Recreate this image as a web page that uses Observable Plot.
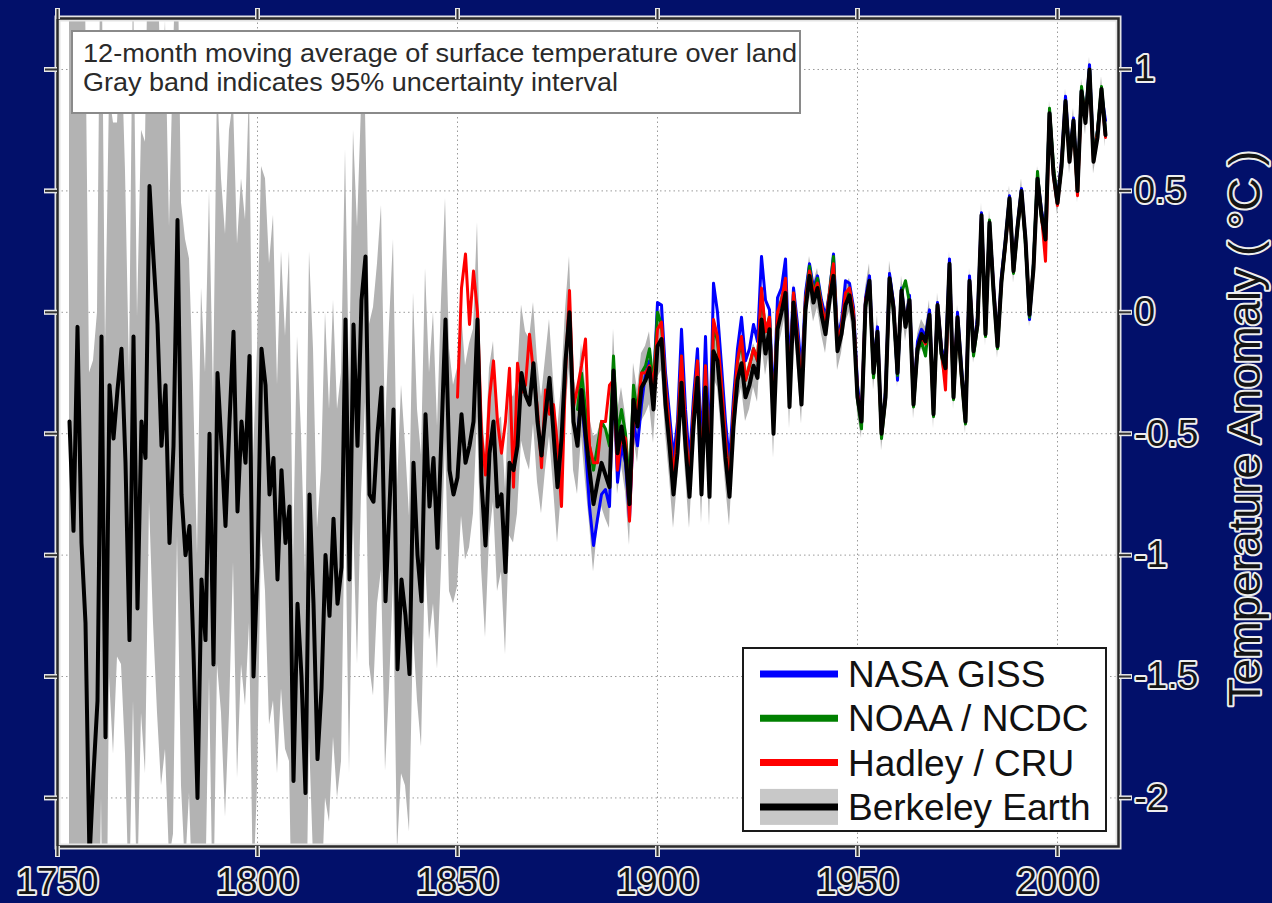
<!DOCTYPE html>
<html>
<head>
<meta charset="utf-8">
<script src="https://cdn.jsdelivr.net/npm/d3@7"></script>
<script src="https://cdn.jsdelivr.net/npm/@observablehq/plot@0.6"></script>
<style>
  html, body { margin: 0; padding: 0; background: #02106a; }
  #chart { width: 1272px; height: 903px; }
</style>
</head>
<body>
<div id="chart"></div>
<script>
// Land surface temperature anomaly (°C), 12-month moving average, one value per year.

// Berkeley Earth, 1753–2012
const berkeleyStart = 1753;
const berkeley = [
  -0.45, -0.90, -0.06, -0.95, -1.28, -2.25, -1.90,
  -1.60, -0.10, -1.75, -0.30, -0.52, -0.32, -0.15, -0.62, -1.35, -0.10,
  -1.22, -0.45, -0.60, 0.52, 0.22, -0.05, -0.55, -0.30, -0.95, -0.55,
  0.38, -0.75, -1.00, -0.88, -1.40, -2.00, -1.10, -1.35, -0.50, -1.45,
  -0.25, -0.55, -0.88, -0.45, -0.08, -0.82, -0.45, -0.62, -0.18, -1.50,
  -1.05, -0.15, -0.30, -0.75, -0.60, -1.10, -0.65, -0.95, -0.80, -1.93,
  -1.20, -1.50, -1.98, -0.75, -1.20, -1.84, -1.55, -1.00, -1.25, -0.85,
  -1.20, -1.05, -0.03, -1.10, -0.05, -0.55, 0.05, 0.23, -0.75, -0.78,
  -0.50, -0.31, -1.19, -0.80, -0.40, -1.47, -1.10, -1.25, -1.49, -0.62,
  -1.00, -1.19, -0.42, -0.80, -0.60, -0.97, -0.50, -0.03, -0.65, -0.75,
  -0.68, -0.42, -0.62, -0.55, -0.45, -0.03, -0.70, -0.96, -0.58, -0.45,
  -0.80, -0.75, -1.07, -0.62, -0.65, -0.55, -0.25, -0.34, -0.38, -0.21,
  -0.45, -0.59, -0.42, -0.27, -0.50, -0.72, -0.52, -0.20, 0.00, -0.45,
  -0.55, -0.32, -0.50, -0.65, -0.79, -0.70, -0.62, -0.67, -0.72, -0.24,
  -0.58, -0.47, -0.58, -0.79, -0.36, -0.47, -0.31, -0.28, -0.23, -0.40,
  -0.14, -0.11, -0.38, -0.55, -0.75, -0.58, -0.29, -0.55, -0.76, -0.47,
  -0.27, -0.75, -0.31, -0.76, -0.16, -0.20, -0.39, -0.60, -0.76, -0.47,
  -0.28, -0.21, -0.35, -0.30, -0.22, -0.27, -0.03, -0.17, -0.07, -0.50,
  -0.07, 0.00, 0.08, -0.39, 0.04, -0.15, -0.38, 0.01, 0.15, 0.04,
  0.10, -0.01, -0.09, 0.05, 0.15, -0.16, -0.09, 0.03, 0.07, -0.04,
  -0.35, -0.45, 0.03, 0.13, -0.25, -0.08, -0.50, -0.35, 0.14, 0.02,
  -0.25, 0.09, -0.06, 0.05, -0.38, -0.15, -0.09, -0.12, -0.01, -0.42,
  0.03, -0.17, -0.23, 0.20, -0.35, -0.02, -0.25, -0.45, 0.13, -0.16,
  -0.05, 0.40, -0.09, 0.37, 0.09, -0.14, 0.13, 0.29, 0.47, 0.17,
  0.35, 0.50, 0.30, -0.01, 0.18, 0.55, 0.40, 0.30, 0.82, 0.57,
  0.45, 0.60, 0.87, 0.62, 0.79, 0.50, 0.91, 0.78, 1.00, 0.62,
  0.72, 0.92, 0.73
];
// Half-width of the Berkeley Earth 95% uncertainty interval, 1753–2012
const berkeleyUncertainty = [
  2.6, 2.6, 2.6, 2.6, 2.6, 2.0, 1.7,
  1.6, 1.9, 1.6, 1.2, 1.3, 1.1, 1.3, 1.2, 1.1, 1.5,
  1.2, 1.2, 1.3, 1.3, 1.5, 1.6, 1.4, 1.5, 1.3, 1.6,
  1.3, 1.2, 1.3, 1.1, 1.1, 1.0, 1.2, 1.1, 1.0, 1.1,
  1.2, 1.1, 1.2, 1.2, 0.95, 1.1, 1.0, 1.0, 1.1, 0.9,
  0.9, 0.75, 0.85, 0.95, 1.0, 0.8, 0.9, 0.85, 1.05, 0.9,
  1.1, 1.0, 0.9, 1.0, 1.05, 0.95, 0.9, 1.0, 0.85, 0.9,
  0.8, 0.8, 0.7, 0.8, 0.8, 0.9, 0.8, 0.6, 0.7, 0.8,
  0.7, 0.75, 0.7, 0.75, 0.7, 0.75, 0.8, 0.7, 0.65, 0.7,
  0.6, 0.6, 0.6, 0.55, 0.6, 0.5, 0.55, 0.5, 0.5, 0.45,
  0.45, 0.42, 0.4, 0.42, 0.38, 0.4, 0.35, 0.38, 0.35, 0.33,
  0.35, 0.32, 0.34, 0.3, 0.3, 0.28, 0.28, 0.26, 0.27, 0.25,
  0.25, 0.24, 0.23, 0.24, 0.22, 0.23, 0.22, 0.21, 0.23, 0.2,
  0.2, 0.19, 0.2, 0.22, 0.28, 0.2, 0.18, 0.18, 0.17, 0.17,
  0.17, 0.16, 0.16, 0.17, 0.15, 0.15, 0.14, 0.14, 0.15, 0.14,
  0.13, 0.13, 0.12, 0.13, 0.14, 0.12, 0.12, 0.12, 0.13, 0.12,
  0.11, 0.12, 0.11, 0.12, 0.11, 0.11, 0.11, 0.11, 0.12, 0.11,
  0.10, 0.10, 0.10, 0.10, 0.09, 0.10, 0.09, 0.09, 0.09, 0.10,
  0.09, 0.09, 0.09, 0.09, 0.08, 0.09, 0.08, 0.08, 0.08, 0.08,
  0.08, 0.08, 0.08, 0.08, 0.08, 0.08, 0.08, 0.07, 0.07, 0.07,
  0.07, 0.07, 0.07, 0.07, 0.07, 0.07, 0.07, 0.07, 0.07, 0.07,
  0.06, 0.06, 0.06, 0.06, 0.06, 0.06, 0.06, 0.06, 0.06, 0.06,
  0.05, 0.05, 0.05, 0.05, 0.05, 0.05, 0.05, 0.05, 0.05, 0.05,
  0.05, 0.05, 0.05, 0.05, 0.05, 0.05, 0.05, 0.05, 0.05, 0.05,
  0.05, 0.05, 0.05, 0.05, 0.05, 0.05, 0.05, 0.05, 0.05, 0.05,
  0.05, 0.05, 0.05, 0.05, 0.05, 0.05, 0.05, 0.05, 0.05, 0.05,
  0.05, 0.05, 0.05
];

// Hadley / CRU, 1850–2012
const hadleyStart = 1850;
const hadley = [
  -0.35, 0.10, 0.24, -0.05, 0.17, 0.00, -0.50, -0.67, -0.35, -0.20,
  -0.45, -0.58, -0.45, -0.23, -0.72, -0.21, -0.33, -0.30, -0.09, -0.25,
  -0.40, -0.64, -0.32, -0.42, -0.38, -0.55, -0.80, -0.25, 0.09, -0.39,
  -0.31, -0.22, -0.11, -0.55, -0.62, -0.62, -0.45, -0.45, -0.30, -0.28,
  -0.65, -0.50, -0.52, -0.86, -0.45, -0.40, -0.25, -0.25, -0.22, -0.30,
  -0.07, -0.04, -0.30, -0.48, -0.68, -0.50, -0.18, -0.47, -0.70, -0.40,
  -0.20, -0.68, -0.22, -0.70, -0.03, -0.10, -0.30, -0.52, -0.72, -0.40,
  -0.20, -0.10, -0.28, -0.22, -0.15, -0.20, 0.10, -0.08, -0.02, -0.45,
  0.00, 0.05, 0.14, -0.33, 0.08, -0.10, -0.32, 0.05, 0.17, 0.08,
  0.12, 0.03, -0.05, 0.08, 0.20, -0.12, -0.06, 0.08, 0.10, 0.00,
  -0.33, -0.44, 0.05, 0.12, -0.24, -0.08, -0.50, -0.35, 0.13, 0.03,
  -0.24, 0.08, -0.05, 0.05, -0.37, -0.15, -0.10, -0.13, -0.02, -0.41,
  0.03, -0.16, -0.32, 0.19, -0.34, -0.02, -0.26, -0.44, 0.13, -0.15,
  -0.05, 0.39, -0.08, 0.36, 0.10, -0.13, 0.13, 0.28, 0.46, 0.17,
  0.35, 0.49, 0.30, 0.00, 0.18, 0.54, 0.40, 0.21, 0.82, 0.56,
  0.44, 0.61, 0.86, 0.62, 0.78, 0.48, 0.90, 0.80, 0.98, 0.62,
  0.74, 0.90, 0.72
];

// NASA GISS, 1880–2012
const gissStart = 1880;
const giss = [
  -0.50, -0.35, -0.55, -0.80, -0.96, -0.85, -0.75, -0.73, -0.80, -0.24,
  -0.70, -0.55, -0.62, -0.85, -0.45, -0.55, -0.38, -0.25, -0.20, -0.30,
  0.04, 0.03, -0.25, -0.42, -0.60, -0.45, -0.07, -0.40, -0.62, -0.35,
  -0.15, -0.58, -0.10, -0.60, 0.12, 0.00, -0.22, -0.45, -0.62, -0.35,
  -0.15, -0.02, -0.20, -0.15, -0.05, -0.12, 0.23, 0.05, 0.01, -0.40,
  0.06, 0.10, 0.22, -0.25, 0.10, -0.05, -0.25, 0.08, 0.20, 0.10,
  0.15, 0.05, -0.02, 0.08, 0.24, -0.10, -0.04, 0.13, 0.12, 0.02,
  -0.30, -0.44, 0.06, 0.15, -0.22, -0.06, -0.49, -0.33, 0.16, 0.04,
  -0.28, 0.10, -0.05, 0.07, -0.36, -0.12, -0.07, -0.10, 0.01, -0.40,
  0.04, -0.15, -0.20, 0.22, -0.33, 0.00, -0.23, -0.42, 0.15, -0.16,
  -0.02, 0.41, -0.07, 0.37, 0.11, -0.12, 0.15, 0.30, 0.48, 0.19,
  0.36, 0.51, 0.30, -0.03, 0.20, 0.56, 0.42, 0.33, 0.83, 0.58,
  0.47, 0.62, 0.89, 0.64, 0.80, 0.52, 0.92, 0.80, 1.02, 0.64,
  0.75, 0.90, 0.79
];

// NOAA / NCDC, 1880–2012
const noaaStart = 1880;
const noaa = [
  -0.40, -0.25, -0.40, -0.55, -0.65, -0.55, -0.45, -0.48, -0.55, -0.18,
  -0.50, -0.40, -0.50, -0.72, -0.30, -0.42, -0.25, -0.22, -0.15, -0.30,
  0.00, -0.05, -0.30, -0.48, -0.68, -0.50, -0.18, -0.48, -0.70, -0.40,
  -0.20, -0.68, -0.22, -0.70, -0.05, -0.12, -0.30, -0.52, -0.70, -0.40,
  -0.20, -0.12, -0.28, -0.22, -0.15, -0.20, 0.08, -0.08, -0.02, -0.45,
  0.00, 0.05, 0.12, -0.33, 0.08, -0.10, -0.32, 0.05, 0.19, 0.08,
  0.14, 0.03, -0.05, 0.08, 0.23, -0.13, -0.06, 0.06, 0.10, 0.00,
  -0.36, -0.48, 0.02, 0.12, -0.27, -0.10, -0.52, -0.36, 0.12, 0.01,
  -0.26, 0.08, 0.13, 0.04, -0.39, -0.16, -0.12, -0.18, -0.02, -0.43,
  0.02, -0.18, -0.26, 0.18, -0.36, -0.03, -0.27, -0.46, 0.12, -0.18,
  -0.06, 0.38, -0.10, 0.38, 0.08, -0.15, 0.12, 0.28, 0.47, 0.16,
  0.34, 0.49, 0.28, -0.02, 0.20, 0.58, 0.38, 0.32, 0.84, 0.60,
  0.46, 0.59, 0.86, 0.64, 0.78, 0.49, 0.93, 0.80, 1.00, 0.64,
  0.75, 0.93, 0.74
];

// Axes, legend and annotation text
const xTicks = [1750, 1800, 1850, 1900, 1950, 2000];
const yTicks = [-2, -1.5, -1, -0.5, 0, 0.5, 1];
const yTickLabels = ["-2", "-1.5", "-1", "-0.5", "0", "0.5", "1"];
const yLabel = "Temperature Anomaly ( °C )";
const seriesNames = ["NASA GISS", "NOAA / NCDC", "Hadley / CRU", "Berkeley Earth"];
const seriesColors = ["#0000ff", "#008000", "#ff0000", "#000000"];
const bandColor = "#b3b3b3";
const noteLines = [
  "12-month moving average of surface temperature over land",
  "Gray band indicates 95% uncertainty interval"
];

// Tables built from the arrays above
const rows = (start, values) => values.map((v, i) => ({year: start + i, value: v}));
const berkeleyRows = berkeley.map((v, i) => ({
  year: berkeleyStart + i,
  value: v,
  lo: v - berkeleyUncertainty[i],
  hi: v + berkeleyUncertainty[i]
}));
const gissRows = rows(gissStart, giss);
const noaaRows = rows(noaaStart, noaa);
const hadleyRows = rows(hadleyStart, hadley);

const font = "'Liberation Sans', Arial, Helvetica, sans-serif";
const haloText = {
  fill: "#141414",
  stroke: "#eeeeee",
  strokeWidth: 4,
  strokeLinejoin: "round",
  paintOrder: "stroke",
  fontFamily: font
};
const tickHalo = {stroke: "#e8e8e8", strokeWidth: 5, tickFormat: () => "", fill: "none"};
const tickDark = {stroke: "#333333", strokeWidth: 2, tickFormat: () => "", fill: "none"};

const chart = Plot.plot({
  width: 1272,
  height: 903,
  marginLeft: 57,
  marginRight: 154,
  marginTop: 18,
  marginBottom: 57,
  style: {background: "#02106a", fontFamily: font, overflow: "visible"},
  x: {domain: [1750, 2015.25], axis: null},
  y: {domain: [-2.2, 1.21], axis: null},
  marks: [
    Plot.frame({fill: "white"}),
    Plot.gridX(xTicks, {stroke: "#9a9a9a", strokeOpacity: 1, strokeDasharray: "1.5,3"}),
    Plot.gridY(yTicks, {stroke: "#9a9a9a", strokeOpacity: 1, strokeDasharray: "1.5,3"}),

    // uncertainty band and the four records
    Plot.areaY(berkeleyRows, {x: "year", y1: "lo", y2: "hi", fill: bandColor, clip: true}),
    Plot.lineY(gissRows, {x: "year", y: "value", stroke: seriesColors[0], strokeWidth: 3, clip: true}),
    Plot.lineY(noaaRows, {x: "year", y: "value", stroke: seriesColors[1], strokeWidth: 3, clip: true}),
    Plot.lineY(hadleyRows, {x: "year", y: "value", stroke: seriesColors[2], strokeWidth: 3, clip: true}),
    Plot.lineY(berkeleyRows, {x: "year", y: "value", stroke: seriesColors[3], strokeWidth: 4, clip: true}),

    // frame with light halo
    Plot.frame({stroke: "#e4e4e4", strokeWidth: 6}),
    Plot.frame({stroke: "#2a2a2a", strokeWidth: 2.5}),

    // tick marks on all four sides
    Plot.axisX(xTicks, {anchor: "bottom", tickSize: 11, ...tickHalo}),
    Plot.axisX(xTicks, {anchor: "top", tickSize: 11, ...tickHalo}),
    Plot.axisY(yTicks, {anchor: "left", tickSize: 13, ...tickHalo}),
    Plot.axisY(yTicks, {anchor: "right", tickSize: 13, ...tickHalo}),
    Plot.axisX(xTicks, {anchor: "bottom", tickSize: 10, ...tickDark}),
    Plot.axisX(xTicks, {anchor: "top", tickSize: 10, ...tickDark}),
    Plot.axisY(yTicks, {anchor: "left", tickSize: 12, ...tickDark}),
    Plot.axisY(yTicks, {anchor: "right", tickSize: 12, ...tickDark}),

    // tick labels
    Plot.text(xTicks, {
      x: (d) => d, text: (d) => String(d), frameAnchor: "bottom",
      dy: 47, lineAnchor: "bottom", textAnchor: "middle", fontSize: 37, ...haloText
    }),
    Plot.text(yTicks, {
      y: (d) => d, text: (d, i) => yTickLabels[i], frameAnchor: "right",
      dx: 16, textAnchor: "start", lineAnchor: "middle", fontSize: 37, ...haloText
    }),
    Plot.text([yLabel], {
      text: (d) => d, frameAnchor: "right", dx: 127, dy: -4, rotate: -90,
      textAnchor: "middle", lineAnchor: "middle", fontSize: 45, ...haloText
    })
  ]
});

document.getElementById("chart").appendChild(chart);

// Annotation box and legend drawn on top of the plot
const svg = d3.select(chart);

const note = svg.append("g").attr("text-anchor", "start");
note.append("rect")
  .attr("x", 72).attr("y", 31).attr("width", 728).attr("height", 82)
  .attr("fill", "white").attr("stroke", "#8a8a8a").attr("stroke-width", 2);
noteLines.forEach((line, i) => {
  note.append("text")
    .attr("x", 83).attr("y", 62 + i * 29)
    .attr("text-anchor", "start")
    .attr("font-family", font).attr("font-size", 25).attr("fill", "#2a2a2a")
    .attr("textLength", i === 0 ? 714 : 535).attr("lengthAdjust", "spacingAndGlyphs")
    .text(line);
});

const legend = svg.append("g").attr("text-anchor", "start");
legend.append("rect")
  .attr("x", 743).attr("y", 648).attr("width", 363).attr("height", 183)
  .attr("fill", "white").attr("stroke", "#1a1a1a").attr("stroke-width", 2);
seriesNames.forEach((name, i) => {
  const cy = 674 + i * 44.3;
  if (i === seriesNames.length - 1) {
    legend.append("rect")
      .attr("x", 760).attr("y", cy - 18).attr("width", 78).attr("height", 36)
      .attr("fill", "#c8c8c8");
  }
  legend.append("line")
    .attr("x1", 760).attr("x2", 838).attr("y1", cy).attr("y2", cy)
    .attr("stroke", seriesColors[i]).attr("stroke-width", 7);
  legend.append("text")
    .attr("x", 848).attr("y", cy + 13)
    .attr("text-anchor", "start")
    .attr("font-family", font).attr("font-size", 37).attr("fill", "#111")
    .text(name);
});
</script>
</body>
</html>
